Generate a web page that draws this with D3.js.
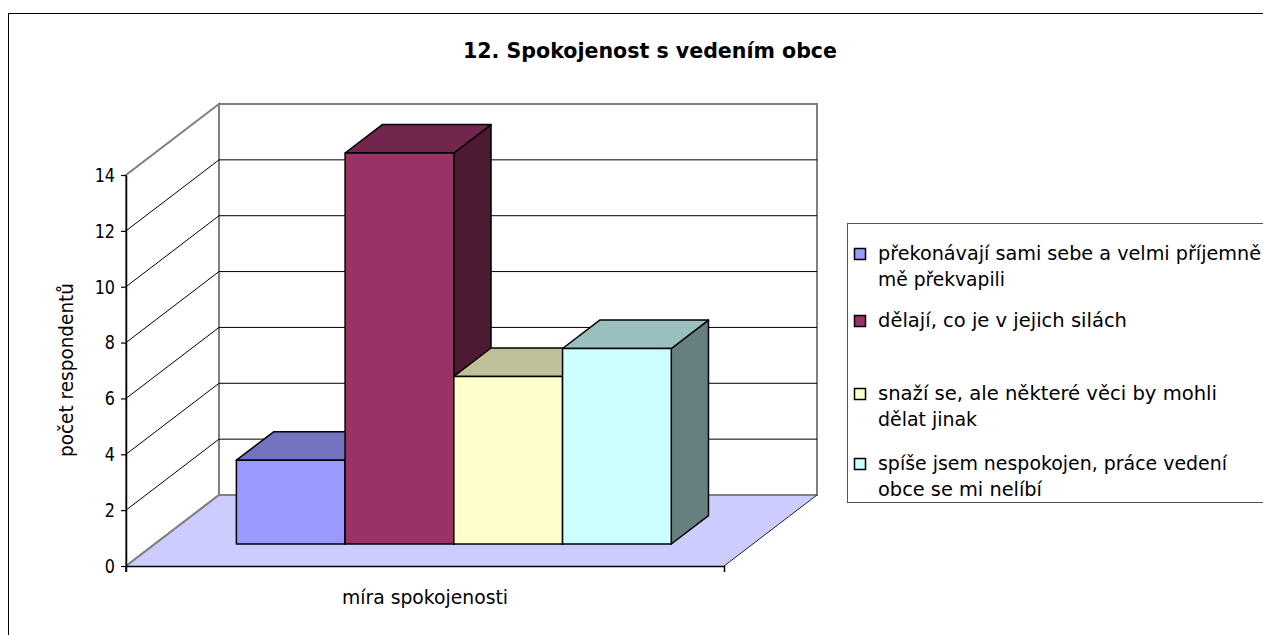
<!DOCTYPE html>
<html><head><meta charset="utf-8">
<script src="https://cdn.jsdelivr.net/npm/d3@7"></script>
<style>
body{margin:0;background:#fff;}
svg{display:block;}
text{font-family:"DejaVu Sans",sans-serif;fill:#000;}
</style>
</head><body>
<svg id="chart" width="1263" height="635"></svg>
<script>
// ---------- data ----------
const chartTitle = "12. Spokojenost s vedením obce";
const categories = ["míra spokojenosti"];
const seriesNames = [
  "překonávají sami sebe a velmi příjemně mě překvapili",
  "dělají, co je v jejich silách",
  "snaží se, ale některé věci by mohli dělat jinak",
  "spíše jsem nespokojen, práce vedení obce se mi nelíbí"
];
const seriesLegendLines = [
  ["překonávají sami sebe a velmi příjemně", "mě překvapili"],
  ["dělají, co je v jejich silách"],
  ["snaží se, ale některé věci by mohli", "dělat jinak"],
  ["spíše jsem nespokojen, práce vedení", "obce se mi nelíbí"]
];
const values = [3, 14, 6, 7];
const yTicks = [0, 2, 4, 6, 8, 10, 12, 14];
const yAxisTitle = "počet respondentů";

// ---------- style / layout ----------
const colors = ["#9999FF", "#993366", "#FFFFCC", "#CCFFFF"];
const shade = (c, k) => { const r = d3.rgb(c); return d3.rgb(r.r * k, r.g * k, r.b * k).formatHex(); };
const legendTextWidths = [[383, 127], [249], [339, 99], [349, 164]];

const svg = d3.select("#chart");
const plot = { left: 126, right: 724, bottom: 566, top: 175 };
const depth = { dx: 93, dy: -71 };
const barT0 = 0.31, barT1 = 0.71;

const y = d3.scaleLinear().domain([0, 14]).range([plot.bottom, plot.top]);
const x = d3.scaleBand().domain(seriesNames).range([plot.left, plot.right]).paddingInner(0).paddingOuter(0.75);
const xc = d3.scaleBand().domain(categories).range([plot.left, plot.right]);
const P = (px, py, t) => [px + t * depth.dx, py + t * depth.dy];
const poly = pts => pts.map(p => p.join(",")).join(" ");

// outer chart border
svg.append("rect").attr("x", 8.5).attr("y", 13.5).attr("width", 1400).attr("height", 800)
  .attr("fill", "#fff").attr("stroke", "#000").attr("stroke-width", 1);

// title
svg.append("text").attr("x", 463).attr("y", 58)
  .attr("font-size", 21).attr("font-weight", "bold")
  .attr("textLength", 374).attr("lengthAdjust", "spacingAndGlyphs")
  .text(chartTitle);

const y0 = y(0), yMax = y(14);
const wallGray = "#808080";

// back wall
svg.append("polygon")
  .attr("points", poly([P(plot.left, y0, 1), P(plot.right, y0, 1), P(plot.right, yMax, 1), P(plot.left, yMax, 1)]))
  .attr("fill", "#fff").attr("stroke", wallGray).attr("stroke-width", 2);
// left wall
svg.append("polygon")
  .attr("points", poly([[plot.left, y0], [plot.left, yMax], P(plot.left, yMax, 1), P(plot.left, y0, 1)]))
  .attr("fill", "#fff").attr("stroke", wallGray).attr("stroke-width", 2);

// gridlines
const inner = yTicks.filter(v => v > 0 && v < 14);
const g = svg.append("g");
inner.forEach(v => {
  const a = [plot.left, y(v)], b = P(plot.left, y(v), 1), c = P(plot.right, y(v), 1);
  g.append("polyline").attr("points", poly([a, b, c]))
    .attr("fill", "none").attr("stroke", "#000").attr("stroke-width", 1);
});

// floor
const fl = [[plot.left, y0], [plot.right, y0], P(plot.right, y0, 1), P(plot.left, y0, 1)];
svg.append("polygon").attr("points", poly(fl)).attr("fill", "#CCCCFF").attr("stroke", "none");
svg.append("polyline").attr("points", poly([fl[0], fl[3], fl[2]]))
  .attr("fill", "none").attr("stroke", wallGray).attr("stroke-width", 2);
svg.append("line").attr("x1", fl[1][0]).attr("y1", fl[1][1]).attr("x2", fl[2][0]).attr("y2", fl[2][1])
  .attr("stroke", "#222").attr("stroke-width", 1);

// bars
const bw = x.bandwidth();
const bars = svg.append("g");
seriesNames.forEach((s, i) => {
  const xl = x(s), xr = xl + bw, yv = y(values[i]);
  const gb = bars.append("g").attr("stroke", "#000").attr("stroke-width", 1.5).attr("stroke-linejoin", "round");
  gb.append("polygon").attr("points", poly([P(xr, y0, barT0), P(xr, y0, barT1), P(xr, yv, barT1), P(xr, yv, barT0)]))
    .attr("fill", shade(colors[i], 0.5));
  gb.append("polygon").attr("points", poly([P(xl, yv, barT0), P(xr, yv, barT0), P(xr, yv, barT1), P(xl, yv, barT1)]))
    .attr("fill", shade(colors[i], 0.75));
  gb.append("polygon").attr("points", poly([P(xl, y0, barT0), P(xr, y0, barT0), P(xr, yv, barT0), P(xl, yv, barT0)]))
    .attr("fill", colors[i]);
});

// y axis
const yAxis = svg.append("g").attr("transform", `translate(${plot.left},0)`)
  .call(d3.axisLeft(y).tickValues(yTicks).tickSize(5).tickSizeOuter(0).tickPadding(6));
yAxis.select(".domain").attr("stroke", "#000").attr("stroke-width", 1.5);
yAxis.selectAll(".tick line").attr("stroke", "#000").attr("stroke-width", 1.2);
yAxis.selectAll("text").attr("font-size", 20).attr("font-family", "DejaVu Sans").attr("fill", "#000")
  .each(function () { const w = this.getComputedTextLength(); d3.select(this).attr("textLength", w * 0.8).attr("lengthAdjust", "spacingAndGlyphs"); });
svg.append("line").attr("x1", plot.left).attr("x2", plot.left).attr("y1", y0).attr("y2", y0 + 6)
  .attr("stroke", "#000").attr("stroke-width", 1.5);

// x axis
const xAxis = svg.append("g").attr("transform", `translate(0,${y0})`)
  .call(d3.axisBottom(xc).tickSizeInner(0).tickSizeOuter(6).tickPadding(25));
xAxis.select(".domain").attr("stroke", "#000").attr("stroke-width", 1.5);
xAxis.selectAll("text").attr("font-size", 19).attr("font-family", "DejaVu Sans").attr("fill", "#000")
  .attr("textLength", 166).attr("lengthAdjust", "spacingAndGlyphs");

// y axis title
svg.append("text").attr("transform", "translate(66,370) rotate(-90)")
  .attr("text-anchor", "middle").attr("dominant-baseline", "central")
  .attr("font-size", 19).attr("textLength", 174).attr("lengthAdjust", "spacingAndGlyphs")
  .text(yAxisTitle);

// legend
const lg = svg.append("g");
lg.append("rect").attr("x", 847.5).attr("y", 223.5).attr("width", 500).attr("height", 279)
  .attr("fill", "#fff").attr("stroke", "#555").attr("stroke-width", 1);
const swatchTops = [248, 315, 388, 458];
seriesLegendLines.forEach((lines, i) => {
  lg.append("rect").attr("x", 854.5).attr("y", swatchTops[i] + 0.5).attr("width", 11).attr("height", 11)
    .attr("fill", colors[i]).attr("stroke", "#000").attr("stroke-width", 1.5);
  lines.forEach((ln, j) => {
    lg.append("text").attr("x", 878).attr("y", swatchTops[i] + 12 + j * 26)
      .attr("font-size", 19).attr("textLength", legendTextWidths[i][j]).attr("lengthAdjust", "spacingAndGlyphs")
      .text(ln);
  });
});
</script>
</body></html>
